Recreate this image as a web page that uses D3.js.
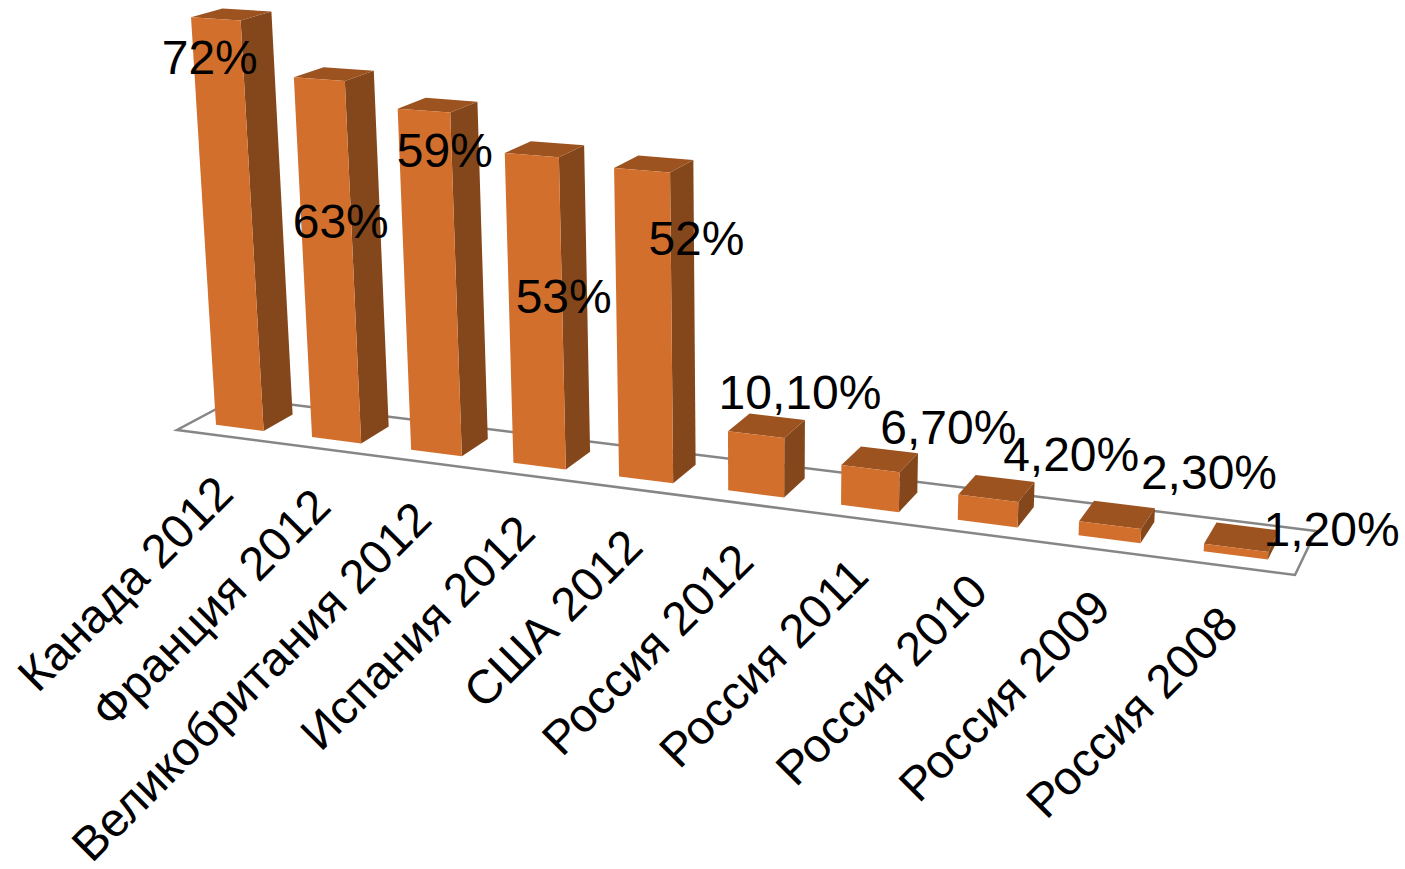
<!DOCTYPE html>
<html>
<head>
<meta charset="utf-8">
<script src="https://cdn.jsdelivr.net/npm/d3@7/dist/d3.min.js"></script>
<style>
html,body{margin:0;padding:0;background:#fff;}
svg{display:block;}
text{font-family:"Liberation Sans",Arial,sans-serif;fill:#000;}
</style>
</head>
<body>
<svg id="chart" width="1405" height="869"></svg>
<script>
// ---- data ----
const categories = ["Канада 2012","Франция 2012","Великобритания 2012","Испания 2012","США 2012","Россия 2012","Россия 2011","Россия 2010","Россия 2009","Россия 2008"];
const values = [72,63,59,53,52,10.1,6.7,4.2,2.3,1.2];
const valueLabels = ["72%","63%","59%","53%","52%","10,10%","6,70%","4,20%","2,30%","1,20%"];

// ---- layout (camera and label placement, not data) ----
const floorCorners = {p00:[177,430],p10:[1295,575],p11:[1316,531],p01:[237,398]};
const verticalVanish = [762,9335];
const labelOffsets = [[-6,55],[21.5,159],[21,56],[32,158],[54.5,85],[44,-26],[78,-25],[83,-27],[99,-36],[95.5,-2]];
const valueFontSize = 48;
const categoryFontSize = 47.5;
const colors = {front:"#D36F2D",side:"#84471C",top:"#9C531F",floor:"#868686"};

// ---- scales ----
const xBand = d3.scaleBand().domain(categories).range([0,1]).paddingInner(0.5).paddingOuter(0.25);
const depth = d3.scaleLinear().domain([0,1]).range([0.25,0.75]);
const lift = d3.scaleLinear().domain([0,100]).range([0,0.0611]);

// ---- projection: floor homography + perspective height ----
const {p00,p10,p11,p01} = floorCorners;
const dx1=p10[0]-p11[0], dx2=p01[0]-p11[0], sx=p00[0]-p10[0]+p11[0]-p01[0];
const dy1=p10[1]-p11[1], dy2=p01[1]-p11[1], sy=p00[1]-p10[1]+p11[1]-p01[1];
const den=dx1*dy2-dx2*dy1;
const g=(sx*dy2-dx2*sy)/den, h=(dx1*sy-sx*dy1)/den;
const ax=p10[0]-p00[0]+g*p10[0], bx=p01[0]-p00[0]+h*p01[0];
const ay=p10[1]-p00[1]+g*p10[1], by=p01[1]-p00[1]+h*p01[1];
function project(u,v,val){
  const L=lift(val), w=1+g*u+h*v-L;
  return [(ax*u+bx*v+p00[0]-verticalVanish[0]*L)/w,(ay*u+by*v+p00[1]-verticalVanish[1]*L)/w];
}

const svg=d3.select("#chart");
const line=d3.line();
const closed=pts=>line(pts)+"Z";

// floor
svg.append("path")
  .attr("d",closed([[0,0,0],[1,0,0],[1,1,0],[0,1,0]].map(p=>project(...p))))
  .attr("fill","none").attr("stroke",colors.floor).attr("stroke-width",2.5);

// bars
const bars=svg.selectAll("g.bar").data(categories).join("g").attr("class","bar");
bars.each(function(c,i){
  const u0=xBand(c), u1=u0+xBand.bandwidth(), v0=depth(0), v1=depth(1), t=values[i];
  const g0=d3.select(this);
  g0.append("path").attr("fill",colors.side)
    .attr("d",closed([project(u1,v0,0),project(u1,v1,0),project(u1,v1,t),project(u1,v0,t)]));
  g0.append("path").attr("fill",colors.top)
    .attr("d",closed([project(u0,v0,t),project(u1,v0,t),project(u1,v1,t),project(u0,v1,t)]));
  g0.append("path").attr("fill",colors.front)
    .attr("d",closed([project(u0,v0,0),project(u1,v0,0),project(u1,v0,t),project(u0,v0,t)]));
});

// value labels
svg.selectAll("text.val").data(categories).join("text").attr("class","val")
  .attr("text-anchor","middle").attr("font-size",valueFontSize)
  .attr("x",(c,i)=>project(xBand(c)+xBand.bandwidth()/2,depth(0),values[i])[0]+labelOffsets[i][0])
  .attr("y",(c,i)=>project(xBand(c)+xBand.bandwidth()/2,depth(0),values[i])[1]+labelOffsets[i][1])
  .text((c,i)=>valueLabels[i]);

// category labels
svg.selectAll("text.cat").data(categories).join("text").attr("class","cat")
  .attr("text-anchor","end").attr("font-size",categoryFontSize)
  .attr("transform",c=>{
    const p=project(xBand(c)+xBand.bandwidth()/2,0,0);
    return `translate(${p[0]+11},${p[1]+60}) rotate(-45)`;
  })
  .text(c=>c);
</script>
</body>
</html>
